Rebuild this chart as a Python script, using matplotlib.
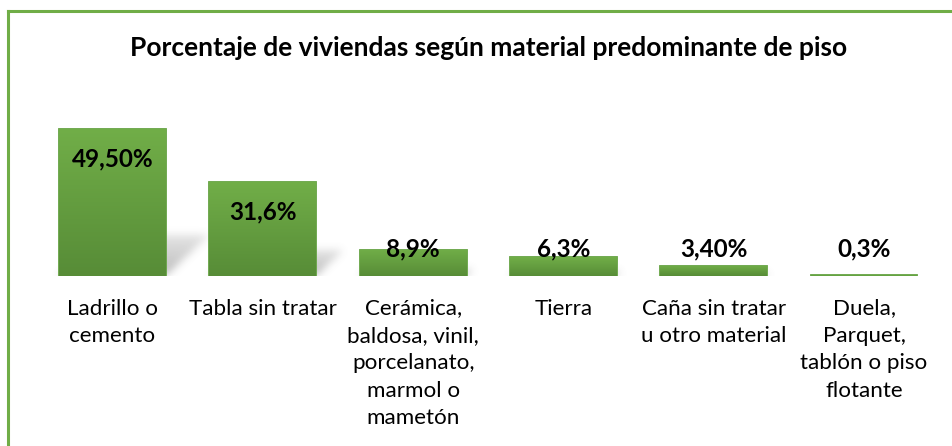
import numpy as np
import matplotlib
matplotlib.use("Agg")
import matplotlib.pyplot as plt
from matplotlib.lines import Line2D
from matplotlib.colors import LinearSegmentedColormap

categories = [
    "Ladrillo o\ncemento",
    "Tabla sin tratar",
    "Cerámica,\nbaldosa, vinil,\nporcelanato,\nmarmol o\nmametón",
    "Tierra",
    "Caña sin tratar\nu otro material",
    "Duela,\nParquet,\ntablón o piso\nflotante",
]
values = [49.5, 31.6, 8.9, 6.3, 3.4, 0.3]
value_labels = ["49,50%", "31,6%", "8,9%", "6,3%", "3,40%", "0,3%"]
title = "Porcentaje de viviendas según material predominante de piso"

plt.rcParams['font.family'] = ['Lato', 'DejaVu Sans']

W, H, DPI = 953, 446, 100
fig = plt.figure(figsize=(W / DPI, H / DPI), dpi=DPI)
fig.patch.set_facecolor('white')

# axes geometry in pixels
ax_left, ax_right = 37.4, 939.2
base_y = 276.0
y_max = 55.0
px_per_unit = 2.97
ax_h = y_max * px_per_unit
ax = fig.add_axes([ax_left / W, (H - base_y) / H, (ax_right - ax_left) / W, ax_h / H])
ax.axis('off')

x = np.arange(len(values))
bw = 0.71
green_mid = '#65a342'
green_top = '#71ae48'
green_bot = '#578c37'
bars = ax.bar(x, values, width=bw, color=green_mid, edgecolor=green_mid,
              linewidth=1.3, zorder=3)

# vertical gradient inside each bar (skipped for hairline-thin bars)
cmap = LinearSegmentedColormap.from_list('grn', [green_bot, green_top])
grad = np.linspace(0, 1, 256).reshape(-1, 1)
for b in bars:
    L = b.get_x()
    R = L + b.get_width()
    h = b.get_height()
    if h * px_per_unit < 3:
        continue
    im = ax.imshow(grad, extent=(L, R, 0, h), origin='lower', cmap=cmap,
                   aspect='auto', zorder=4, interpolation='bicubic')
    im.set_clip_path(b)

# soft perspective shadow cast behind the bars
nx = int(round(ax_right - ax_left))
ny = int(round(ax_h))
px_per_x = (ax_right - ax_left) / 6.0
xs = -0.5 + (np.arange(nx) + 0.5) / nx * 6.0
ys = (np.arange(ny) + 0.5) / ny * y_max
X, Y = np.meshgrid(xs, ys)
alpha = np.zeros_like(X)
for b in bars:
    L = b.get_x()
    R = L + b.get_width()
    h = b.get_height()
    hs = 0.28 * h
    if hs <= 0:
        continue
    dxu = 0.30 * h * px_per_unit / px_per_x
    shift = dxu * Y / hs
    m = (Y <= hs) & (X >= L + shift) & (X <= R + shift)
    a = 0.48 * (1 - 0.6 * Y / hs)
    alpha = np.maximum(alpha, np.where(m, a, 0))


def blur(arr, sigma):
    r = int(3 * sigma)
    k = np.exp(-0.5 * (np.arange(-r, r + 1) / sigma) ** 2)
    k /= k.sum()
    pad = np.pad(arr, r, mode='constant')
    tmp = np.apply_along_axis(lambda v: np.convolve(v, k, mode='valid'), 1, pad)
    out = np.apply_along_axis(lambda v: np.convolve(v, k, mode='valid'), 0, tmp)
    return out


alpha = blur(alpha, 4.0)
rgba = np.zeros((ny, nx, 4))
rgba[..., :3] = 0.45
rgba[..., 3] = np.clip(alpha, 0, 1)
ax.imshow(rgba, extent=(-0.5, 5.5, 0, y_max), origin='lower', aspect='auto',
          zorder=2, interpolation='bilinear')

ax.set_xlim(-0.5, 5.5)
ax.set_ylim(0, y_max)

# value labels
for xi, v, lbl in zip(x, values, value_labels):
    ax.text(xi, max(v - 12.6, 6.7), lbl, ha='center', va='baseline',
            fontsize=17.5, fontweight='bold', color='black', zorder=6)

# category labels
for xi, c in zip(x, categories):
    ax.text(xi, -7.6, c, ha='center', va='top', fontsize=16.1,
            color='black', linespacing=1.46, clip_on=False)

# title
fig.text(489 / W, 1 - 48 / H, title, ha='center', va='center',
         fontsize=19, fontweight='bold', color='black')

# green frame (left and top edges)
frame = '#70ad47'
fig.add_artist(Line2D([8.5 / W, 8.5 / W], [0, 1 - 10.5 / H], color=frame,
                      lw=2.2, solid_capstyle='projecting'))
fig.add_artist(Line2D([8.5 / W, 1.0], [1 - 10.5 / H, 1 - 10.5 / H], color=frame,
                      lw=2.2, solid_capstyle='projecting'))

fig.savefig('out.png', dpi=DPI, facecolor='white')
